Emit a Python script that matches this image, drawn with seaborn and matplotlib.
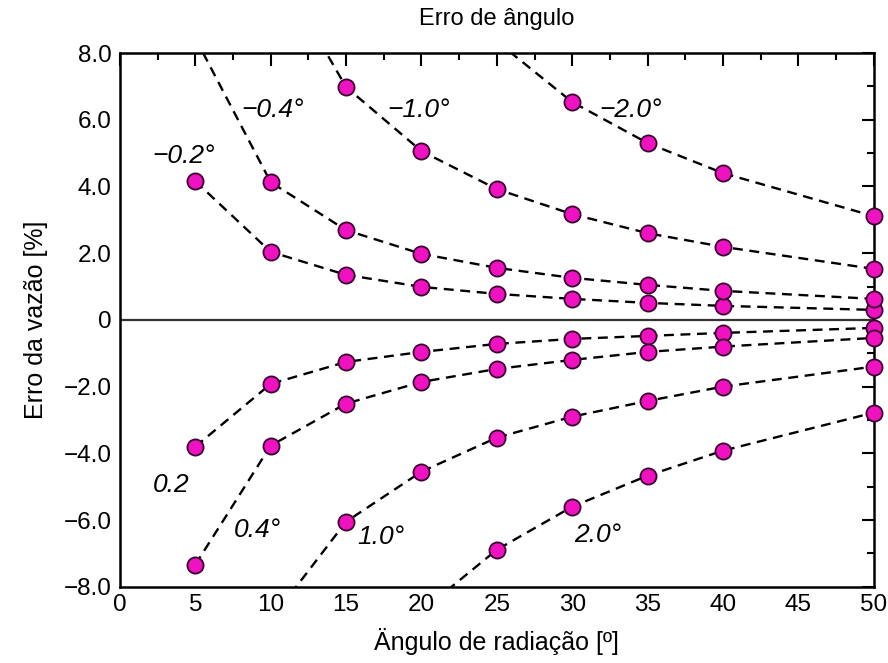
import numpy as np
import pandas as pd
import matplotlib.pyplot as plt
import seaborn as sns
from matplotlib.ticker import MultipleLocator

# data (angle error curves); points outside +-8 only extend the dashed lines
series_names = ['-0.2', '-0.4', '-1.0', '-2.0', '0.2', '0.4', '1.0', '2.0']
x_m02 = [5, 10, 15, 20, 25, 30, 35, 40, 50]
y_m02 = [4.16, 2.04, 1.35, 0.99, 0.78, 0.63, 0.51, 0.42, 0.30]
x_m04 = [5, 10, 15, 20, 25, 30, 35, 40, 50]
y_m04 = [8.45, 4.13, 2.69, 1.98, 1.56, 1.26, 1.05, 0.87, 0.63]
x_m10 = [10, 15, 20, 25, 30, 35, 40, 50]
y_m10 = [10.9, 6.98, 5.06, 3.92, 3.17, 2.60, 2.19, 1.53]
x_m20 = [25, 30, 35, 40, 50]
y_m20 = [8.35, 6.53, 5.30, 4.40, 3.11]
x_p02 = [5, 10, 15, 20, 25, 30, 35, 40, 50]
y_p02 = [-3.80, -1.92, -1.26, -0.96, -0.72, -0.57, -0.48, -0.39, -0.24]
x_p04 = [5, 10, 15, 20, 25, 30, 35, 40, 50]
y_p04 = [-7.34, -3.77, -2.51, -1.86, -1.47, -1.20, -0.96, -0.80, -0.54]
x_p10 = [10, 15, 20, 25, 30, 35, 40, 50]
y_p10 = [-9.0, -6.05, -4.55, -3.53, -2.90, -2.43, -2.00, -1.40]
x_p20 = [20, 25, 30, 35, 40, 50]
y_p20 = [-8.74, -6.89, -5.60, -4.67, -3.92, -2.78]

xs = [x_m02, x_m04, x_m10, x_m20, x_p02, x_p04, x_p10, x_p20]
ys = [y_m02, y_m04, y_m10, y_m20, y_p02, y_p04, y_p10, y_p20]

frames = []
for name, x, y in zip(series_names, xs, ys):
    frames.append(pd.DataFrame({'angulo': x, 'erro': y, 'serie': name}))
df = pd.concat(frames, ignore_index=True)

# curve labels
label_texts = ['\u22120.4\u00b0', '\u22121.0\u00b0', '\u22122.0\u00b0', '\u22120.2\u00b0',
               '0.2', '0.4\u00b0', '1.0\u00b0', '2.0\u00b0']
label_x = [10.1, 19.8, 33.9, 4.2, 3.4, 9.1, 17.3, 31.7]
label_y = [6.3, 6.3, 6.3, 4.9, -4.95, -6.3, -6.5, -6.45]

yticks = [8, 6, 4, 2, 0, -2, -4, -6, -8]
ytick_labels = ['8.0', '6.0', '4.0', '2.0', '0', '\u22122.0', '\u22124.0', '\u22126.0', '\u22128.0']
xticks = [0, 5, 10, 15, 20, 25, 30, 35, 40, 45, 50]

sns.set_style('white')
plt.rcParams['font.family'] = ['Liberation Sans', 'DejaVu Sans']
plt.rcParams['text.color'] = 'black'
plt.rcParams['axes.labelcolor'] = 'black'

fig = plt.figure(figsize=(8.88, 6.63), dpi=100)
ax = fig.add_axes([0.135, 0.115, 0.849, 0.805])

ax.axhline(0, color='#333333', lw=1.6, zorder=1)

for name in series_names:
    sub = df[df['serie'] == name]
    sns.lineplot(data=sub, x='angulo', y='erro', ax=ax, color='black', lw=1.7,
                 dashes=False, linestyle=(0, (4.2, 2.8)), sort=False, zorder=2)

inside = df[(df['erro'] <= 8) & (df['erro'] >= -8)]
sns.scatterplot(data=inside, x='angulo', y='erro', ax=ax, s=135, color='#f012c0',
                edgecolor='#3a0030', linewidth=1.3, zorder=3, clip_on=False)

for t, lx, ly in zip(label_texts, label_x, label_y):
    ax.text(lx, ly, t, fontsize=19, style='italic', ha='center', va='center', color='black')

ax.set_xlim(0, 50)
ax.set_ylim(-8, 8)
ax.set_xticks(xticks)
ax.set_yticks(yticks)
ax.set_yticklabels(ytick_labels)
ax.xaxis.set_minor_locator(MultipleLocator(2.5))
ax.yaxis.set_minor_locator(MultipleLocator(1))
ax.tick_params(which='both', direction='in', top=True, right=True, width=1.5,
               labelsize=17.5, labelcolor='black', color='black')
ax.tick_params(axis='x', pad=5)
ax.tick_params(axis='y', pad=6)
ax.tick_params(which='major', length=9)
ax.tick_params(which='minor', length=5)
for s in ax.spines.values():
    s.set_linewidth(1.8)
    s.set_color('black')

ax.set_title('Erro de \u00e2ngulo', fontsize=17, pad=20)
ax.set_xlabel('\u00c4ngulo de radia\u00e7\u00e3o [\u00ba]', fontsize=18, labelpad=9)
ax.set_ylabel('Erro da vaz\u00e3o [%]', fontsize=18, labelpad=11)

fig.savefig('out.png', dpi=100)
